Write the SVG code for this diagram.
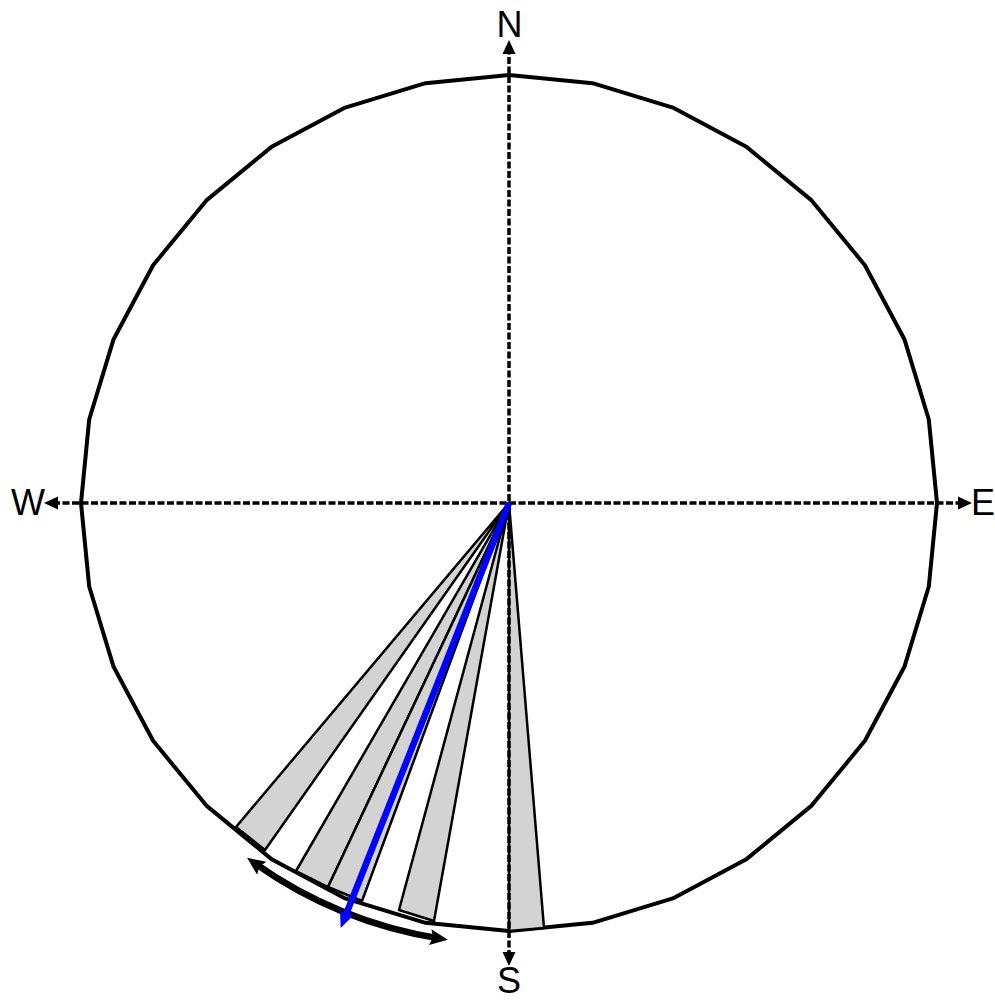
<svg xmlns="http://www.w3.org/2000/svg" width="995" height="1000" viewBox="0 0 995 1000">
<style>
.lbl{font-family:"Liberation Sans",Arial,sans-serif;font-size:36px;fill:#000;text-anchor:middle}
.axis{stroke:#000;stroke-width:3.5;stroke-dasharray:7 2.5;fill:none}
.wedge{fill:#d3d3d3;stroke:#000;stroke-width:2.5;stroke-linejoin:round}
</style>
<defs>
<marker id="axhead" viewBox="0 0 14 14" markerUnits="userSpaceOnUse" markerWidth="14" markerHeight="14" refX="5" refY="7" orient="auto-start-reverse">
<path d="M0,0.5 L14,7 L0,13.5 z" fill="#000"/>
</marker>
<marker id="bkhead" viewBox="0 0 18 18" markerUnits="userSpaceOnUse" markerWidth="18" markerHeight="18" refX="10" refY="9" orient="auto-start-reverse">
<path d="M0,1 L18,9 L0,17 L3,9 z" fill="#000"/>
</marker>
<marker id="bluehead" viewBox="0 0 16 16" markerUnits="userSpaceOnUse" markerWidth="16" markerHeight="16" refX="5" refY="8" orient="auto">
<path d="M0,1 L16,8 L0,15 z" fill="#0000ff"/>
</marker>
</defs>
<g id="circle">
<polygon fill="#fff" stroke="#000" stroke-width="4" stroke-linejoin="round" points="509,75 592.5,83.2 672.8,107.6 746.8,147.1 811.6,200.4 864.9,265.2 904.4,339.2 928.8,419.5 937,503 928.8,586.5 904.4,666.8 864.9,740.8 811.6,805.6 746.8,858.9 672.8,898.4 592.5,922.8 509,931 425.5,922.8 345.2,898.4 271.2,858.9 206.4,805.6 153.1,740.8 113.6,666.8 89.2,586.5 81,503 89.2,419.5 113.6,339.2 153.1,265.2 206.4,200.4 271.2,147.1 345.2,107.6 425.5,83.2"/>
</g>
<g id="wedges">
<polygon id="wedge1" class="wedge" points="509,503 236,827 265,850"/>
<polygon id="wedge2a" class="wedge" points="509,503 296,871 328,887"/>
<polygon id="wedge2b" class="wedge" points="509,503 328,887 362,901"/>
<polygon id="wedge3" class="wedge" points="509,503 399,910 434,921"/>
<polygon id="wedge4" class="wedge" points="509,503 509,931 544,928"/>
</g>
<g id="connectors">
<line id="axis-ns" class="axis" x1="509" y1="957" x2="509" y2="49" marker-start="url(#axhead)" marker-end="url(#axhead)"/>
<line id="axis-we" class="axis" x1="53" y1="503" x2="963" y2="503" marker-start="url(#axhead)" marker-end="url(#axhead)"/>
<path id="range-arc" d="M253.6,862.5 A441,441 0 0 0 440,938.6" fill="none" stroke="#000" stroke-width="6.5" marker-start="url(#bkhead)" marker-end="url(#bkhead)"/>
<line id="mean-arrow" x1="509" y1="503" x2="344.7" y2="917.7" stroke="#0000ff" stroke-width="6.5" marker-end="url(#bluehead)"/>
</g>
<g id="labels">
<text class="lbl" x="509.5" y="37">N</text>
<text class="lbl" x="509" y="993">S</text>
<text class="lbl" x="28" y="515">W</text>
<text class="lbl" x="983" y="515">E</text>
</g>
</svg>
